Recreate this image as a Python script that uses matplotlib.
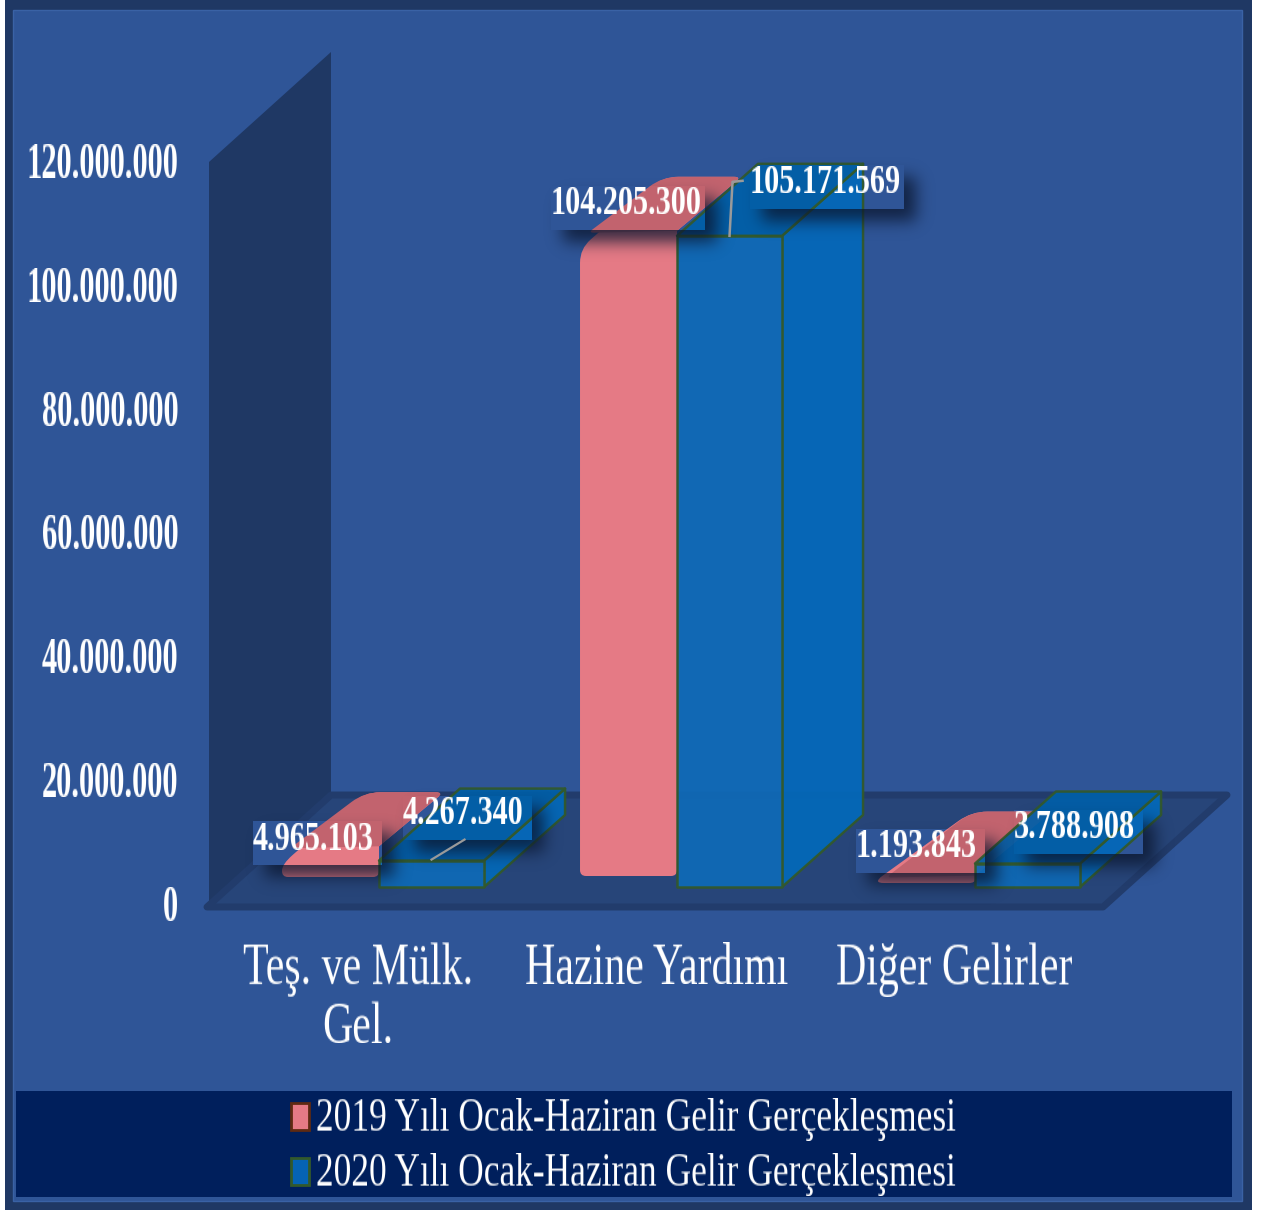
import numpy as np
import matplotlib
matplotlib.use("Agg")
import matplotlib.pyplot as plt
from matplotlib.patches import PathPatch, Patch, Rectangle, Polygon
from matplotlib.path import Path
from matplotlib.transforms import IdentityTransform

plt.rcParams['font.family']=['Liberation Serif','DejaVu Serif']

categories=["Teş. ve Mülk.\nGel.","Hazine Yardımı","Diğer Gelirler"]
series_names=["2019 Yılı Ocak-Haziran Gelir Gerçekleşmesi","2020 Yılı Ocak-Haziran Gelir Gerçekleşmesi"]
values_2019=[4965103,104205300,1193843]
values_2020=[4267340,105171569,3788908]
y_ticks=[0,20000000,40000000,60000000,80000000,100000000,120000000]

W,H=1262,1211
BG="#2F5597"
DARK="#1F3864"
PINK="#E57A85"
PINK_TOP="#C2636E"
BLUE="#0F6AB7"
EDGE="#33592B"

def fmt(v):
    return f"{v:,}".replace(",",".")

def stretch_y(k,anchor="center",shift=0):
    # makes the glyphs tall and narrow like the original chart
    def f(img,dpi):
        h=img.shape[0]
        nh=int(round(h*k))
        pos=np.linspace(0,h-1,nh)
        i0=np.floor(pos).astype(int)
        i1=np.minimum(i0+1,h-1)
        t=(pos-i0)[:,None,None]
        out=img[i0]*(1-t)+img[i1]*t
        oy=-(nh-h) if anchor=="top" else -(nh-h)//2
        return out,0,oy+shift
    return f

def soft_shadow(sigma,off,color,strength):
    rgb=matplotlib.colors.to_rgb(color)
    def f(img,dpi):
        pad=int(3*sigma)+off+2
        a=np.pad(img[...,3],pad)
        x=np.arange(-3*sigma,3*sigma+1)
        k=np.exp(-x**2/(2*sigma**2))
        k=k/k.sum()
        a=np.apply_along_axis(np.convolve,0,a,k,'same')
        a=np.apply_along_axis(np.convolve,1,a,k,'same')
        h,w=img.shape[:2]
        a[pad-off:pad-off+h,pad-off:pad-off+w]=0
        out=np.zeros(a.shape+(4,))
        out[...,0],out[...,1],out[...,2]=rgb
        out[...,3]=a*strength
        return out,-pad,-pad
    return f

def rounded(verts,radii):
    n=len(verts)
    codes=[]
    pts=[]
    for i in range(n):
        p=np.array(verts[i],float)
        a=np.array(verts[i-1],float)
        b=np.array(verts[(i+1)%n],float)
        r=radii[i]
        if r==0:
            pts.append(p)
            codes.append(Path.MOVETO if i==0 else Path.LINETO)
            continue
        p1=p+(a-p)/np.linalg.norm(a-p)*min(r,np.linalg.norm(a-p)/2)
        p2=p+(b-p)/np.linalg.norm(b-p)*min(r,np.linalg.norm(b-p)/2)
        pts+= [p1,p,p2]
        codes+=[Path.MOVETO if i==0 else Path.LINETO,Path.CURVE3,Path.CURVE3]
    pts.append(pts[0])
    codes.append(Path.CLOSEPOLY)
    return Path(pts,codes)

fig=plt.figure(figsize=(W/100,H/100),dpi=100,facecolor="white")

# frame and legend band, in pixels
bg=fig.add_axes([0,0,1,1],zorder=0)
bg.set_xlim(0,W)
bg.set_ylim(H,0)
bg.axis("off")
bg.add_patch(Rectangle((5,0),1247,1210,fc=DARK,ec="none"))
bg.add_patch(Rectangle((13,10),1229,1191,fc=BG,ec="#3A62A5",lw=1))
bg.add_patch(Rectangle((16,1091),1216,106,fc="#001F5C",ec="none"))

# value axes, 0 sits at y=905 and 120M at y=162
ax=fig.add_axes([209/W,1-905/H,894/W,743/H],zorder=1)
ax.patch.set_visible(False)
ax.set_xlim(-0.5705,2.4295)
ax.set_ylim(0,120000000)
for s in ax.spines.values():
    s.set_visible(False)
ax.set_yticks(y_ticks,[fmt(v) for v in y_ticks])
ax.set_xticks(np.arange(3)-0.07,categories)
ax.tick_params(axis="y",length=0,pad=22,colors="white",labelsize=22)
ax.tick_params(axis="x",length=0,pad=27,colors="white",labelsize=30.2)
for t in ax.get_yticklabels():
    t.set_fontweight("bold")
    t.set_agg_filter(stretch_y(1.6,shift=2))
for t in ax.get_xticklabels():
    t.set_linespacing(1.13)
    t.set_agg_filter(stretch_y(1.4,anchor="top"))

ID=IdentityTransform()

def P(x,y,dx=0,dy=0):
    q=ax.transData.transform((x,y))
    return (q[0]+dx,q[1]+dy)

def poly(pts,z,**kw):
    ax.add_patch(Polygon(pts,closed=True,transform=ID,clip_on=False,zorder=z,**kw))

# wall and floor
x_lo,x_hi=ax.get_xlim()
poly([P(x_lo,0),P(x_lo,120000000),P(x_lo,120000000,122,110),P(x_lo,0,122,110)],1,fc=DARK,ec="none")
poly([P(x_lo,0,-2,-2),P(x_hi,0,0,-2),P(x_hi,0,124,110),P(x_lo,0,122,110)],1.1,fc="#274579",ec="#223C6C",lw=5,joinstyle="round")

pink_w=0.3255
blue_w=0.3525
pink_lift=[28,29,22]
pink_depth=[54,54,64]
blue_lift=18

# label boxes go under the bars, their shadows over them
label_pos_2019=[(31,-8),(46,-28),(38,-30)]
label_pos_2020=[(84,-48),(148,-54),(99,-37)]

def label(v,x0,top,off):
    cx=x0+off[0]
    cy=top-off[1]
    s=fmt(v)
    left,right=(75,79) if len(s)>9 else (60,69)
    rx,ry=cx-left,cy-5-22
    bw=left+right
    ax.add_patch(Rectangle((rx,ry),bw,44,fc=BG,ec="none",transform=ID,clip_on=False,zorder=2))
    sh=Rectangle((rx+12,ry-12),bw,44,fc="black",ec="none",transform=ID,clip_on=False,zorder=5)
    sh.set_agg_filter(soft_shadow(8,12,"#0B1730",0.8))
    ax.add_patch(sh)
    t=ax.text(cx,cy,s,color="white",fontsize=21.8,fontweight="bold",ha="center",va="center",transform=ID,zorder=8,clip_on=False)
    t.set_agg_filter(stretch_y(1.4))

for i,v in enumerate(values_2019):
    x0,_=P(i-pink_w,0)
    x1,base=P(i,0,0,pink_lift[i])
    _,top=P(i,v,0,pink_lift[i])
    d=pink_depth[i]
    left_y=max(top-18,base+4)
    sil=[(x0,base),(x1,base),(x1,top),(x1+d*1.2,top+d),(x0+17+d*1.1+6,top+d),(x0,left_y)]
    ax.add_patch(PathPatch(rounded(sil,[6,6,0,8,16,14 if v>3000000 else 5]),fc=PINK,ec="none",transform=ID,clip_on=False,zorder=3))
    surf=[(x0+8,top-2),(x1,top),(x1+d*1.2,top+d),(x0+17+d*1.1+6,top+d)]
    ax.add_patch(PathPatch(rounded(surf,[6,0,8,16]),fc=PINK_TOP,ec="none",transform=ID,clip_on=False,zorder=3.1))
    label(v,x0,top,label_pos_2019[i])

for i,v in enumerate(values_2020):
    x0,base=P(i,0,0,blue_lift)
    x1,_=P(i+blue_w,0)
    _,top=P(i,v,0,blue_lift)
    style=dict(ec=EDGE,lw=1.8,joinstyle="round")
    poly([(x1,base),(x1+81,base+72),(x1+81,top+72),(x1,top)],4,fc="#0468B8",alpha=0.95,**style)
    poly([(x0,top),(x1,top),(x1+81,top+72),(x0+81,top+72)],4,fc="#005FA8",alpha=0.92,**style)
    poly([(x0,base),(x1,base),(x1,top),(x0,top)],4.1,fc=BLUE,alpha=0.93,**style)
    label(v,x0,top,label_pos_2020[i])

# leader lines
x,y=P(0+blue_w/2,values_2020[0],0,blue_lift)
ax.plot([x,x+33],[y+1,y+21],color="#9A9A9A",lw=1.6,transform=ID,clip_on=False,zorder=6)
x,y=P(1+blue_w/2,values_2020[1],0,blue_lift)
ax.plot([x,x+3,x+13],[y,y+54,y+55],color="#9A9A9A",lw=1.8,transform=ID,clip_on=False,zorder=6)

handles=[Patch(fc=PINK,ec="#5E2A12",lw=2),Patch(fc="#0563B5",ec="#33592B",lw=2)]
leg=ax.legend(handles,series_names,loc="center left",bbox_to_anchor=(291,1147),bbox_transform=bg.transData,
              frameon=False,fontsize=25.5,labelcolor="white",handlelength=0.5,handleheight=0.8,
              labelspacing=0.6,handletextpad=0.22,borderpad=0,borderaxespad=0)
for t in leg.get_texts():
    t.set_agg_filter(stretch_y(1.3))

fig.savefig("out.png",dpi=100)
